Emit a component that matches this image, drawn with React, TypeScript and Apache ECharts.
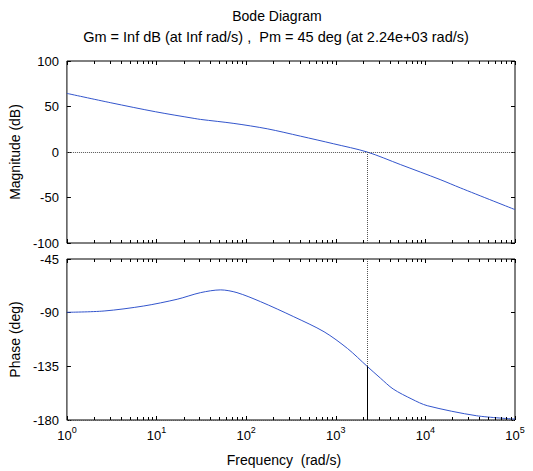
import React, { useEffect, useRef } from "react";
import * as echarts from "echarts";

// Magnitude curve (frequency in rad/s, magnitude in dB)
const freqMag = [1, 3.09, 9.77, 26.3, 31, 73, 172, 404, 948, 2240, 5250, 14600, 24500, 100000];
const magDb = [64.4, 54.1, 44.2, 36.9, 35.8, 31.4, 25.5, 17.4, 9.0, 0, -13.75, -30.3, -39.4, -63.3];

// Phase curve (frequency in rad/s, phase in deg)
const freqPhase = [1, 2.6, 7.2, 17, 31, 52, 79, 145, 340, 740, 1350, 2240, 3160, 4370, 7080, 10500, 37000, 100000];
const phaseDeg = [-89.7, -88.6, -84.4, -78.75, -73.2, -70.9, -73.2, -80.8, -93.4, -106, -120, -135, -145, -154, -162.5, -168, -176.4, -179.2];

// Margin readouts
const crossoverFreq = 2240;
const phaseAtCrossover = -135;

// Axis ranges and ticks
const freqMin = 1;
const freqMax = 100000;
const magMin = -100;
const magMax = 100;
const magStep = 50;
const phaseMin = -180;
const phaseMax = -45;
const phaseStep = 45;
const decades = [1, 10, 100, 1000, 10000];
const minorMultipliers = [2, 3, 4, 5, 6, 7, 8, 9];

const titleText = "Bode Diagram";
const subtitleText = "Gm = Inf dB (at Inf rad/s) ,  Pm = 45 deg (at 2.24e+03 rad/s)";
const magName = "Magnitude (dB)";
const phaseName = "Phase (deg)";
const freqName = "Frequency  (rad/s)";

const FONT = "'Liberation Sans', Arial, Helvetica, sans-serif";

export default function App() {
  const ref = useRef<HTMLDivElement>(null);

  useEffect(() => {
    if (!ref.current) return;
    const chart = echarts.init(ref.current, undefined, { renderer: "svg" });

    const minorTicks: number[] = [];
    decades.forEach((d) => minorMultipliers.forEach((m) => minorTicks.push(m * d)));

    const tickStyle = { show: true, inside: true, length: 4, lineStyle: { color: "#000", width: 1 } };
    const dotted = { color: "#555", width: 1, type: [1, 1] as any };

    const makeMinor = (xi: number, yi: number, yLo: number, yHi: number) => ({
      type: "custom",
      xAxisIndex: xi,
      yAxisIndex: yi,
      silent: true,
      z: 5,
      data: minorTicks.map((w) => [w, yLo]),
      encode: { x: 0, y: 1 },
      renderItem: (_p: any, api: any) => {
        const w = api.value(0);
        const top = api.coord([w, yHi]);
        const bot = api.coord([w, yLo]);
        const x = Math.round(top[0]) + 0.5;
        return {
          type: "group",
          children: [
            { type: "line", shape: { x1: x, y1: top[1], x2: x, y2: top[1] + 3 }, style: { stroke: "#000", lineWidth: 1 } },
            { type: "line", shape: { x1: x, y1: bot[1], x2: x, y2: bot[1] - 3 }, style: { stroke: "#000", lineWidth: 1 } },
          ],
        };
      },
    });

    const xBase = (gridIndex: number, position: string, labels: boolean) => ({
      type: "log",
      logBase: 10,
      gridIndex,
      position,
      min: freqMin,
      max: freqMax,
      axisLine: { show: false, onZero: false },
      axisTick: tickStyle,
      splitLine: { show: false },
      axisLabel: labels
        ? {
            show: true,
            margin: 9,
            formatter: (v: number) => `{b|10}{s|${Math.round(Math.log10(v))}}`,
            rich: {
              b: { fontSize: 13, fontFamily: FONT, color: "#000", lineHeight: 13, verticalAlign: "bottom" },
              s: { fontSize: 9, fontFamily: FONT, color: "#000", lineHeight: 9, padding: [0, 0, 8, 0], verticalAlign: "bottom" },
            },
          }
        : { show: false },
    });

    const yBase = (gridIndex: number, position: string, min: number, max: number, step: number, labels: boolean, name?: string) => ({
      type: "value",
      gridIndex,
      position,
      min,
      max,
      interval: step,
      axisLine: { show: false, onZero: false },
      axisTick: tickStyle,
      splitLine: { show: false },
      axisLabel: labels ? { show: true, margin: 8, fontSize: 13, fontFamily: FONT, color: "#000" } : { show: false },
      name: name,
      nameLocation: "middle",
      nameGap: 38,
      nameTextStyle: { fontSize: 14, fontFamily: FONT, color: "#000" },
    });

    chart.setOption({
      animation: false,
      backgroundColor: "#fff",
      grid: [
        { left: 66, top: 61, width: 449, height: 182, show: true, borderColor: "#000", borderWidth: 1, backgroundColor: "transparent" },
        { left: 66, top: 259, width: 449, height: 161, show: true, borderColor: "#000", borderWidth: 1, backgroundColor: "transparent" },
      ],
      xAxis: [xBase(0, "bottom", false), xBase(0, "top", false), xBase(1, "bottom", true), xBase(1, "top", false)],
      yAxis: [
        yBase(0, "left", magMin, magMax, magStep, true, magName),
        yBase(0, "right", magMin, magMax, magStep, false),
        yBase(1, "left", phaseMin, phaseMax, phaseStep, true, phaseName),
        yBase(1, "right", phaseMin, phaseMax, phaseStep, false),
      ],
      graphic: [
        { type: "text", x: 277, y: 16, style: { text: titleText, font: `14px ${FONT}`, fill: "#000", textAlign: "center", textVerticalAlign: "middle" } },
        { type: "text", x: 276, y: 37, style: { text: subtitleText, font: `14.5px ${FONT}`, fill: "#000", textAlign: "center", textVerticalAlign: "middle" } },
        { type: "text", x: 284, y: 460, style: { text: freqName, font: `14px ${FONT}`, fill: "#000", textAlign: "center", textVerticalAlign: "middle" } },
      ],
      series: [
        {
          type: "line",
          xAxisIndex: 0,
          yAxisIndex: 0,
          data: freqMag.map((f, i) => [f, magDb[i]]),
          showSymbol: false,
          smooth: 0.3,
          lineStyle: { color: "#3355cc", width: 1 },
          z: 3,
          markLine: {
            silent: true,
            symbol: "none",
            label: { show: false },
            lineStyle: dotted,
            data: [
              { yAxis: 0 },
              [{ coord: [crossoverFreq, 0] }, { coord: [crossoverFreq, magMin] }],
            ],
          },
        },
        {
          type: "line",
          xAxisIndex: 2,
          yAxisIndex: 2,
          data: freqPhase.map((f, i) => [f, phaseDeg[i]]),
          showSymbol: false,
          smooth: 0.3,
          lineStyle: { color: "#3355cc", width: 1 },
          z: 3,
          markLine: {
            silent: true,
            symbol: "none",
            label: { show: false },
            lineStyle: dotted,
            data: [
              { yAxis: phaseMin },
              [{ coord: [crossoverFreq, phaseMax] }, { coord: [crossoverFreq, phaseAtCrossover] }],
              [
                { coord: [crossoverFreq, phaseAtCrossover], lineStyle: { color: "#000", width: 1, type: "solid" } },
                { coord: [crossoverFreq, phaseMin] },
              ],
            ],
          },
        },
        makeMinor(0, 0, magMin, magMax),
        makeMinor(2, 2, phaseMin, phaseMax),
      ],
    });

    return () => chart.dispose();
  }, []);

  return (
    <div
      ref={ref}
      style={{ position: "absolute", left: 0, top: 0, width: 533, height: 471, background: "#fff" }}
    />
  );
}
